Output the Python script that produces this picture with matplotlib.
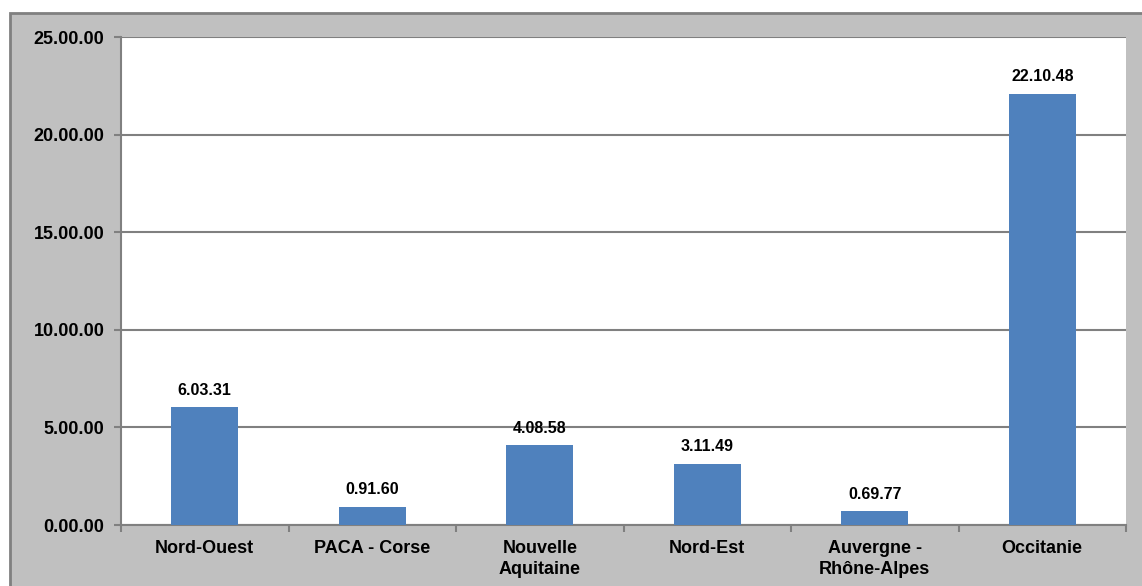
import matplotlib.pyplot as plt
from matplotlib.patches import Rectangle
import numpy as np

regions = ["Nord-Ouest", "PACA - Corse", "Nouvelle\nAquitaine", "Nord-Est",
           "Auvergne -\nRhône-Alpes", "Occitanie"]
values = [6.0331, 0.9160, 4.0858, 3.1149, 0.6977, 22.1048]
value_labels = ["6.03.31", "0.91.60", "4.08.58", "3.11.49", "0.69.77", "22.10.48"]
y_ticks = [0, 5, 10, 15, 20, 25]
y_tick_labels = ["0.00.00", "5.00.00", "10.00.00", "15.00.00", "20.00.00", "25.00.00"]

plt.rcParams['font.family'] = ['Liberation Sans', 'DejaVu Sans']

W, H = 1142, 586
fig = plt.figure(figsize=(W / 100, H / 100), dpi=100)
fig.patch.set_facecolor("white")

# gray chart frame (cropped on right and bottom)
fig.patches.append(Rectangle((10 / W, -0.05), 1.0, (H - 13) / H + 0.05,
                             transform=fig.transFigure, facecolor="#c0c0c0",
                             edgecolor="#808080", linewidth=2, zorder=-5))

ax = fig.add_axes([121 / W, 1 - 525 / H, (1126 - 121) / W, (525 - 37) / H])
ax.set_facecolor("white")

x = np.arange(len(regions))
ax.bar(x, values, width=0.4, color="#4f81bd", zorder=3)

for xi, v, lab in zip(x, values, value_labels):
    ax.annotate(lab, (xi, v), xytext=(0, 7), textcoords="offset points",
                ha="center", va="bottom", fontsize=11.5, fontweight="bold")

ax.set_xlim(-0.5, len(regions) - 0.5)
ax.set_ylim(0, 25)
ax.set_yticks(y_ticks)
ax.set_yticklabels(y_tick_labels, fontsize=13, fontweight="bold")
ax.yaxis.grid(True, color="#808080", linewidth=1.5, zorder=1)

ax.set_xticks(x)
ax.set_xticklabels(regions, fontsize=13, fontweight="bold", linespacing=1.3)
ax.tick_params(axis="x", which="major", length=0, pad=11)
ax.set_xticks(np.arange(-0.5, len(regions)), minor=True)
ax.tick_params(axis="x", which="minor", length=5, color="#808080", width=1.5)
ax.tick_params(axis="y", length=5, color="#808080", width=1.5, pad=7)

for side in ["top", "right"]:
    ax.spines[side].set_visible(False)
for side in ["left", "bottom"]:
    ax.spines[side].set_color("#808080")
    ax.spines[side].set_linewidth(1.5)

fig.savefig("out.png", dpi=100)
